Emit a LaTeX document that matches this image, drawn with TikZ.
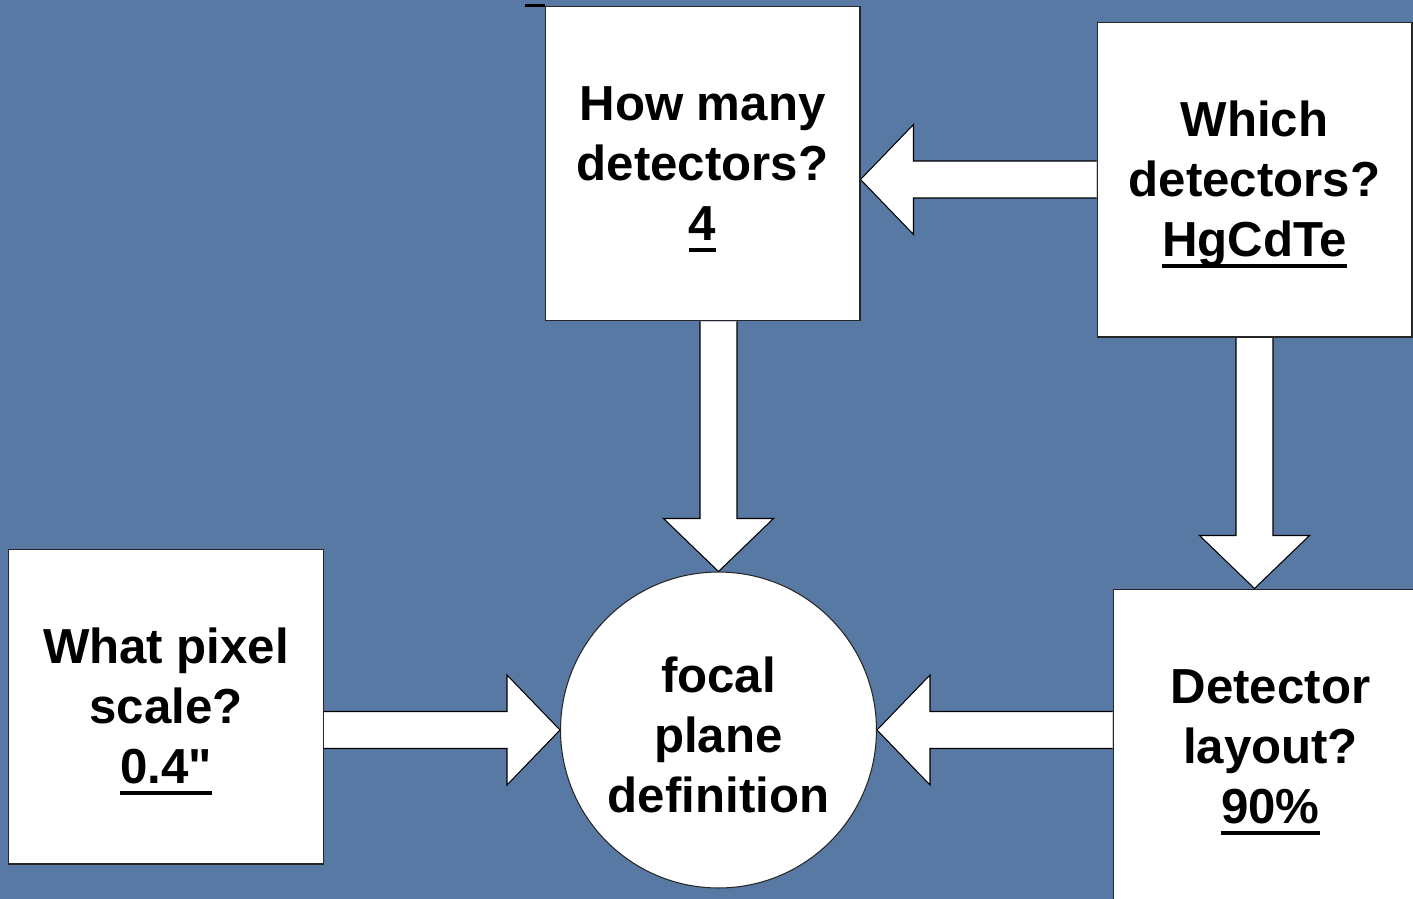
\documentclass[tikz,border=0pt]{standalone}
\usepackage{fontspec}
\setmainfont{Liberation Sans}[Ligatures=TeXOff]
\usetikzlibrary{calc}
\pgfdeclarelayer{back}
\pgfdeclarelayer{arrows}
\pgfsetlayers{back,arrows,main}
\definecolor{slate}{RGB}{88,121,163}
% thick underline for the answers
\newcommand{\answer}[1]{\setbox0\hbox{#1}\rlap{\rule[-6.6pt]{\wd0}{2.3pt}}\box0}
% extra room above the first line
\newcommand{\tall}{\rule{0pt}{26pt}}
% white block arrow from #1 to #2
\newcommand{\blockarrow}[2]{%
  \coordinate (hb) at ($(#2)!1.06cm!(#1)$);
  \draw[block arrow] ($(#1)!0.37cm!-90:(#2)$) -- ($(hb)!0.37cm!90:(#1)$)
    -- ($(hb)!1.1cm!90:(#1)$) -- (#2) -- ($(hb)!1.1cm!-90:(#1)$)
    -- ($(hb)!0.37cm!-90:(#1)$) -- ($(#1)!0.37cm!90:(#2)$);}

\begin{document}
\begin{tikzpicture}[x=0.02cm,y=-0.02cm]
  \tikzstyle{box node}=[rectangle,draw=black!85,fill=white,line width=0.6pt,
    minimum size=6.3cm,inner sep=0,align=center,
    font=\fontsize{28}{34}\selectfont\bfseries]
  \tikzstyle{cir node}=[box node,circle,minimum size=6.32cm]
  \tikzstyle{block arrow}=[draw=black,fill=white,line width=0.6pt,line join=miter]
  \useasboundingbox (0,0) rectangle (1413,899);
  \begin{pgfonlayer}{back}
    \fill[slate] (0,0) rectangle (1413,899);
  \end{pgfonlayer}
  \node(how)[box node] at (702.5,163.5) {\tall How many\\detectors?\\\answer{4}};
  \node(which)[box node] at (1254.5,179.5) {\tall Which\\detectors?\\\answer{HgCdTe}};
  \node(scale)[box node] at (166,706.5) {\tall What pixel\\scale?\\\answer{0.4"}};
  \node(layout)[box node] at (1270.5,746.5) {\tall Detector\\layout?\\\answer{90\%}};
  \node(focal)[cir node] at (718.5,730) {\tall focal\\plane\\definition};
  \draw[line width=1.2pt] (how.north west) -- ++(-20,0);
  \begin{pgfonlayer}{arrows}
    \blockarrow{which.west}{how.east |- which.west}
    \blockarrow{how.south -| focal.north}{focal.north}
    \blockarrow{which.south}{which.south |- layout.north}
    \blockarrow{scale.east |- focal.west}{focal.west}
    \blockarrow{layout.west |- focal.east}{focal.east}
  \end{pgfonlayer}
\end{tikzpicture}
\end{document}
